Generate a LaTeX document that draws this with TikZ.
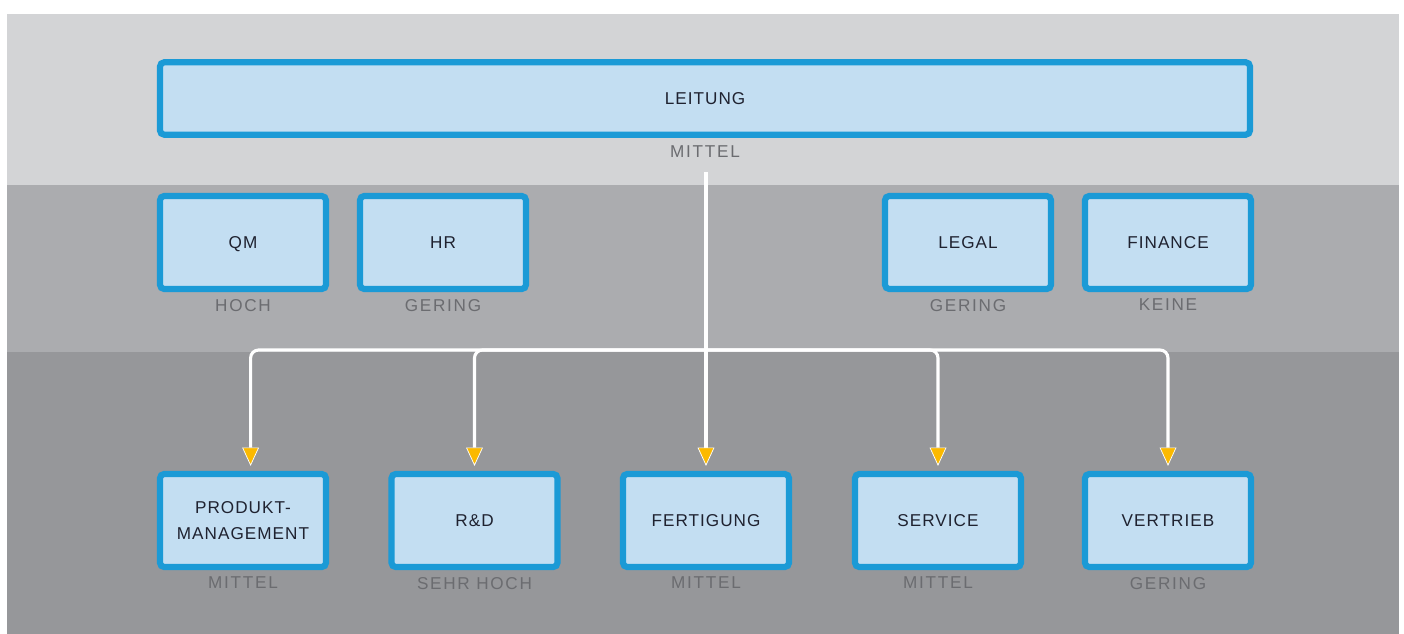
\documentclass[tikz,border=0pt]{standalone}
\usepackage{fontspec}
\setmainfont{Liberation Sans}
\newfontfamily\unitfont[LetterSpace=6]{Liberation Sans}
\newfontfamily\ratefont[LetterSpace=10]{Liberation Sans}
\usetikzlibrary{arrows.meta}

\definecolor{bandtop}{HTML}{D3D4D6}
\definecolor{bandmid}{HTML}{ABACAF}
\definecolor{bandlow}{HTML}{96979A}
\definecolor{unitblue}{HTML}{1B9AD6}
\definecolor{unitfill}{HTML}{C3DEF2}
\definecolor{unittext}{HTML}{1F2230}
\definecolor{ratetext}{HTML}{6B6C70}
\definecolor{tipyellow}{HTML}{FBB900}

\begin{document}
\begin{tikzpicture}[
    unit/.style={draw=unitblue, fill=unitfill, line width=4.4pt, rounded corners=3pt,
        minimum width=4.15cm, minimum height=2.325cm, inner sep=0pt, align=center,
        text=unittext, text depth=0pt, font=\unitfont\fontsize{12.2}{18.5}\selectfont},
    rate/.style={text=ratetext, font=\ratefont\fontsize{12.2}{14}\selectfont,
        inner sep=0pt, text depth=0pt, yshift=-0.17cm},
    link/.style={draw=white, line width=2.2pt, shorten >=0.125cm,
        -{Triangle[length=0.46cm, width=0.42cm, fill=tipyellow, line width=0.5pt]}}
]
        \fill[white] (0,0) rectangle (35.1,-15.85);
        \useasboundingbox (0,0) rectangle (35.1,-15.85);

        % three levels
        \fill[bandtop] (0.175,-0.35) rectangle (34.975,-4.625);
        \fill[bandmid] (0.175,-4.625) rectangle (34.975,-8.8);
        \fill[bandlow] (0.175,-8.8) rectangle (34.975,-15.85);

        \node[unit, minimum width=27.25cm, minimum height=1.81cm,
            label={[rate,yshift=-0.03cm]below:MITTEL}] (lead) at (17.625,-2.4625) {LEITUNG};

        \node[unit, label={[rate]below:HOCH}] (qm) at (6.075,-6.0625) {QM};
        \node[unit, label={[rate]below:GERING}] (hr) at (11.075,-6.0625) {HR};
        \node[unit, label={[rate]below:GERING}] (legal) at (24.2,-6.0625) {LEGAL};
        \node[unit, label={[rate]below:KEINE}] (fin) at (29.2,-6.0625) {FINANCE};

        \node[unit, label={[rate]below:MITTEL}] (pm) at (6.075,-13.0125) {PRODUKT-\\MANAGEMENT};
        \node[unit, label={[rate]below:SEHR HOCH}] (rd) at (11.8625,-13.0125) {R\&D};
        \node[unit, label={[rate]below:MITTEL}] (fert) at (17.65,-13.0125) {FERTIGUNG};
        \node[unit, label={[rate]below:MITTEL}] (serv) at (23.45,-13.0125) {SERVICE};
        \node[unit, label={[rate]below:GERING}] (vert) at (29.2,-13.0125) {VERTRIEB};

        \coordinate (trunk) at (17.65,-4.3);
        \coordinate (bus) at (17.65,-8.75);

        \draw[link] (trunk) -- (fert);
        \draw[link, rounded corners=0.2cm] (bus) -| ([xshift=0.19cm]pm.north);
        \foreach \t in {rd,serv,vert}
            \draw[link, rounded corners=0.2cm] (bus) -| (\t.north);
\end{tikzpicture}
\end{document}
